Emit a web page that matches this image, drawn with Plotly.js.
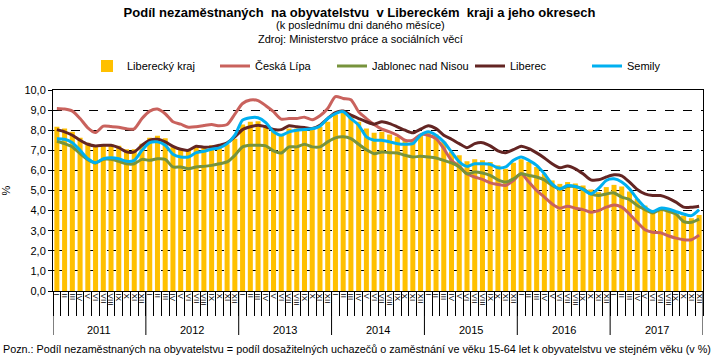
<!DOCTYPE html>
<html>
<head>
<meta charset="utf-8">
<script src="https://cdn.plot.ly/plotly-3.0.1.min.js"></script>
<style>html,body{margin:0;padding:0;background:#fff;}#chart{width:719px;height:357px;}</style>
</head>
<body>
<div id="chart"></div>
<script>
const years = ['2011','2012','2013','2014','2015','2016','2017'];
const months = ['I','II','III','IV','V','VI','VII','VIII','IX','X','XI','XII'];

const liberecky_kraj = [
 8.17,8.08,7.92,7.62,7.38,7.17,7.28,7.30,7.23,7.05,7.05,7.33,
 7.63,7.73,7.60,7.15,7.05,7.00,7.20,7.20,7.25,7.25,7.30,7.58,
 8.28,8.42,8.45,8.25,7.98,7.80,8.08,8.08,8.08,8.08,8.17,8.42,
 8.78,8.92,8.75,8.42,8.08,7.87,7.92,7.78,7.67,7.50,7.42,7.75,
 7.92,7.78,7.42,6.92,6.75,6.45,6.55,6.50,6.42,6.25,6.08,6.38,
 6.55,6.42,6.17,5.83,5.50,5.33,5.42,5.35,5.25,5.05,4.92,5.17,
 5.28,5.20,4.95,4.58,4.25,3.87,4.00,4.00,3.83,3.75,3.62,3.78];
const ceska_lipa = [
 9.08,9.05,8.95,8.58,8.12,7.88,8.20,8.18,8.15,8.07,8.07,8.58,
 8.95,9.05,8.82,8.42,8.30,8.15,8.17,8.23,8.28,8.22,8.28,8.80,
 9.33,9.50,9.47,9.22,8.92,8.55,8.58,8.58,8.65,8.52,8.72,9.08,
 9.67,9.58,9.52,8.92,8.58,8.28,8.05,7.92,7.75,7.50,7.50,7.78,
 7.75,7.58,7.08,6.50,6.20,5.83,5.67,5.55,5.38,5.30,5.25,5.50,
 5.83,5.42,5.00,4.67,4.33,4.12,4.22,4.12,4.05,3.92,4.00,4.17,
 4.28,4.17,3.83,3.42,3.05,2.92,2.90,2.75,2.63,2.55,2.55,2.78];
const jablonec = [
 7.45,7.33,7.17,6.83,6.53,6.37,6.55,6.55,6.45,6.33,6.33,6.55,
 6.50,6.58,6.55,6.17,6.17,6.08,6.17,6.20,6.25,6.33,6.42,6.75,
 7.17,7.25,7.25,7.22,6.97,6.87,7.17,7.17,7.30,7.17,7.17,7.42,
 7.62,7.67,7.58,7.30,7.03,6.83,6.92,6.88,6.87,6.75,6.67,6.70,
 6.67,6.62,6.50,6.37,6.17,5.83,5.92,5.87,5.75,5.53,5.42,5.58,
 5.83,5.75,5.67,5.53,5.25,5.08,5.20,5.20,5.08,4.83,4.75,4.83,
 4.88,4.67,4.55,4.25,4.05,3.88,4.05,3.97,3.83,3.45,3.42,3.58];
const liberec = [
 8.03,7.92,7.75,7.50,7.30,7.22,7.25,7.25,7.13,6.92,6.92,7.25,
 7.50,7.55,7.42,7.20,7.05,7.00,7.20,7.15,7.17,7.25,7.37,7.67,
 8.03,8.17,8.25,8.17,8.03,8.03,8.22,8.17,8.13,8.08,8.25,8.58,
 8.88,8.95,8.75,8.58,8.42,8.30,8.42,8.33,8.17,8.00,7.87,8.05,
 8.22,8.08,7.75,7.55,7.33,7.13,7.33,7.38,7.22,6.97,6.88,7.03,
 7.20,7.08,6.87,6.62,6.33,6.13,6.22,6.08,5.83,5.53,5.53,5.67,
 5.78,5.73,5.42,5.05,4.83,4.75,4.75,4.62,4.42,4.17,4.17,4.22];
const semily = [
 7.58,7.55,7.38,7.00,6.58,6.38,6.58,6.63,6.58,6.45,6.50,7.00,
 7.38,7.42,7.25,6.80,6.67,6.67,6.88,6.95,7.05,7.12,7.33,7.75,
 8.50,8.62,8.62,8.38,7.92,7.75,7.92,8.00,8.03,8.07,8.20,8.58,
 8.83,8.92,8.58,8.25,7.67,7.50,7.50,7.42,7.33,7.30,7.33,7.75,
 7.92,7.75,7.42,6.92,6.42,6.20,6.33,6.33,6.30,6.13,6.17,6.50,
 6.67,6.50,6.25,5.83,5.33,5.08,5.25,5.20,5.05,4.83,5.10,5.50,
 5.58,5.42,5.08,4.58,4.17,3.95,4.12,4.08,3.95,3.83,3.75,4.05];

// month index along the axis, and tick text
const N = years.length * months.length;
const X = [], monthText = [], bounds = [];
for (let i = 0; i < N; i++) { X.push(i); monthText.push(months[i % 12]); }
for (let i = 0; i <= N; i++) bounds.push(i - 0.5);

const font = 'Liberation Sans, Arial, sans-serif';
function line(name, y, color, lg) {
  return {type:'scatter', mode:'lines', name:name, x:X, y:y, legend:lg,
    line:{color:color, width:3, shape:'spline', smoothing:0.7}, hoverinfo:'skip'};
}
const data = [
  {type:'bar', name:'Liberecký kraj', x:X, y:liberecky_kraj, marker:{color:'#FFC000'}, hoverinfo:'skip', legend:'legend'},
  line('Česká Lípa', ceska_lipa, '#C9625D', 'legend2'),
  line('Jablonec nad Nisou', jablonec, '#77933C', 'legend3'),
  line('Liberec', liberec, '#632523', 'legend4'),
  line('Semily', semily, '#00B0F0', 'legend5')
];

const PH = 201; // plot height px
const PW = 650;
const shapes = [];
for (let k = 0; k <= years.length; k++) {
  shapes.push({type:'line', xref:'x', yref:'paper', x0:k*12-0.5, x1:k*12-0.5, y0:0, y1:-44/PH,
    line:{color:'#000', width:1}});
}
const annotations = [
  {text:'(k poslednímu dni daného měsíce)', xref:'paper', yref:'paper', x:(360-53)/PW, y:1+(90-25)/PH,
    showarrow:false, font:{family:font, size:11}, yanchor:'middle'},
  {text:'Zdroj: Ministerstvo práce a sociálních věcí', xref:'paper', yref:'paper', x:(360-53)/PW, y:1+(90-39)/PH,
    showarrow:false, font:{family:font, size:11}, yanchor:'middle'},
  {text:'Pozn.: Podíl nezaměstnaných na obyvatelstvu = podíl dosažitelných uchazečů o zaměstnání ve věku 15-64 let k obyvatelstvu ve stejném věku (v %)',
    xref:'paper', yref:'paper', x:(1-53)/PW, xanchor:'left', y:(291-349)/PH, yanchor:'middle',
    showarrow:false, font:{family:font, size:10.8}}
];
years.forEach((y, k) => annotations.push({text:y, xref:'x', yref:'paper', x:k*12+5.5, y:(291-330)/PH,
  yanchor:'middle', showarrow:false, font:{family:font, size:11}}));

function lg(px) {
  return {orientation:'h', x:(px-53)/PW, xanchor:'left', y:1+(90-66)/PH, yanchor:'middle',
    font:{family:font, size:11, color:'#000'}, bgcolor:'rgba(0,0,0,0)'};
}

const layout = {
  width:719, height:357,
  margin:{l:53, r:16, t:90, b:66},
  paper_bgcolor:'#fff', plot_bgcolor:'#fff',
  font:{family:font, size:11, color:'#000'},
  separators:', ',
  bargap:0.35,
  showlegend:true,
  title:{text:'<b>Podíl nezaměstnaných  na obyvatelstvu  v Libereckém  kraji a jeho okresech</b>',
    font:{family:font, size:13, color:'#000'}, x:0.5, xref:'container', y:1-12/357, yref:'container', yanchor:'middle'},
  legend:lg(87), legend2:lg(215), legend3:lg(332), legend4:lg(470), legend5:lg(587),
  xaxis:{range:[-0.5, N-0.5], showline:true, linecolor:'#000', linewidth:1, mirror:true,
    tickmode:'array', tickvals:X, ticktext:monthText, ticks:'', tickangle:90,
    tickfont:{family:font, size:8, color:'#000'}, showgrid:false, zeroline:false,
    minor:{tickmode:'array', tickvals:bounds, ticks:'outside', ticklen:24, tickcolor:'#000', showgrid:false}},
  yaxis:{range:[0,10], dtick:1, tickformat:'.1f', showline:true, linecolor:'#000', mirror:true,
    showgrid:true, gridcolor:'#000', griddash:'dash', gridwidth:1, zeroline:false,
    ticks:'outside', ticklen:4, tickcolor:'#000',
    tickfont:{family:font, size:11, color:'#000'},
    title:{text:'%', font:{family:font, size:11, color:'#000'}, standoff:14}},
  shapes:shapes,
  annotations:annotations
};
Plotly.newPlot('chart', data, layout, {displayModeBar:false, staticPlot:true});
</script>
</body>
</html>
